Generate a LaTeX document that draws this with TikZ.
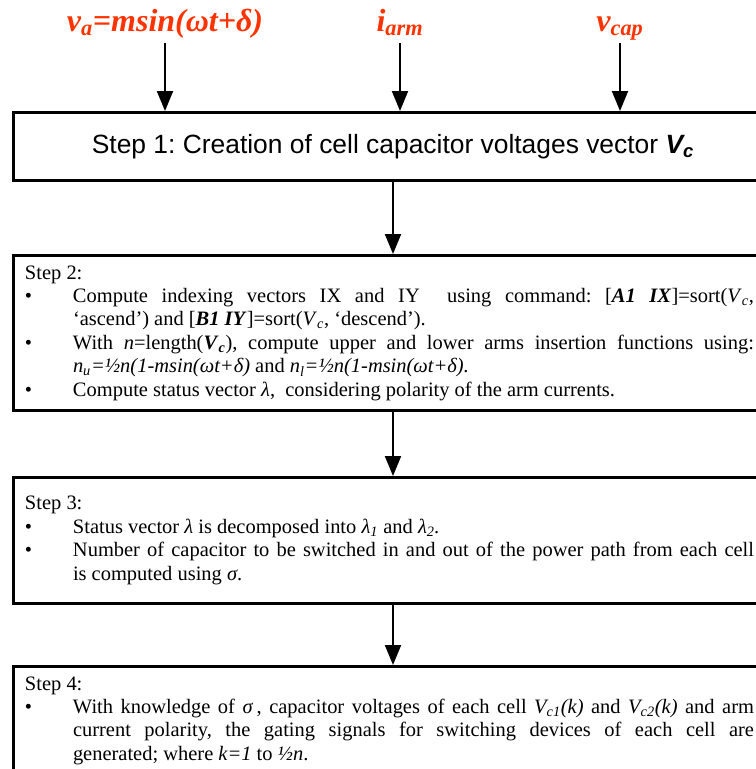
\documentclass[tikz,border=0pt]{standalone}
\usepackage{fontspec}
\setmainfont{Liberation Serif}
\newfontfamily\arialfont{Liberation Sans}
\usetikzlibrary{arrows.meta}
\frenchspacing
\definecolor{sigred}{RGB}{255,51,0}
\newcommand{\stepbody}[1]{\parbox{570pt}{\spaceskip=\fontdimen2\font plus \fontdimen3\font\relax\leftskip=9pt\rightskip=14.25pt\hyphenpenalty=10000\exhyphenpenalty=10000\tolerance=9999\noindent #1\par}}
\newcommand{\stepitem}{\par\hangindent=36pt\hangafter=1\noindent\makebox[36pt][l]{\textbullet}}

\begin{document}
\begin{tikzpicture}[x=0.75pt, y=-0.75pt,
		sig/.style = {text=sigred, font=\fontsize{24pt}{28pt}\selectfont\bfseries\itshape, inner sep=0pt, outer sep=4pt, text height=17pt, text depth=5pt},
		hd/.style = {rectangle, draw=black, line width=2.25pt, anchor=north, minimum width=570pt, minimum height=51pt, font=\arialfont\fontsize{19.8pt}{22pt}\selectfont},
		stp/.style = {rectangle, draw=black, line width=2.25pt, anchor=north, inner xsep=0pt, inner ysep=7.5pt, font=\fontsize{15.35pt}{17.6pt}\selectfont},
		r/.style = {-{Triangle[length=15pt, width=12pt]}, line width=1.5pt}
		]
		\useasboundingbox (0,0) rectangle (756,769);
		\clip (0,0) rectangle (756,769);
		
		%Nodes
		\node[sig]	(va)	at	(165, 23)	{\textit{v}\textsubscript{a}=msin(ωt+δ)};
		\node[sig]	(iarm)	at	(400, 23)	{\textit{i}\textsubscript{arm}};
		\node[sig]	(vcap)	at	(620, 23)	{\textit{v}\textsubscript{cap}};
		\node[hd]	(s1)	at	(393, 111)	{Step 1: Creation of cell capacitor voltages vector \textbf{\textit{V\textsubscript{c}}}};
		\node[stp]	(s2)	at	(393, 254)	{\stepbody{Step 2:
			\stepitem Compute indexing vectors IX and IY\ \ using command: [\textbf{\textit{A1 IX}}]=sort(\textit{V}\textsubscript{\textit{c}},\linebreak ‘ascend’) and [\textbf{\textit{B1 IY}}]=sort(\textit{V}\textsubscript{\textit{c}}, ‘descend’).
			\stepitem With \textit{n}=length(\textbf{\textit{V}\textsubscript{\textit{c}}}), compute upper and lower arms insertion functions using: \textit{n\textsubscript{u}=½n(1-msin(ωt+δ)} and \textit{n\textsubscript{l}=½n(1-msin(ωt+δ).}
			\stepitem Compute status vector \textit{λ},\ \ considering polarity of the arm currents.}};
		\node[stp, minimum height=94.5pt]	(s3)	at	(393, 476)	{\stepbody{Step 3:
			\stepitem Status vector \textit{λ} is decomposed into \textit{λ\textsubscript{1}} and \textit{λ\textsubscript{2}.}
			\stepitem Number of capacitor to be switched in and out of the power path from each cell\linebreak is computed using \textit{σ}.}};
		\node[stp]	(s4)	at	(393, 665)	{\stepbody{Step 4:
			\stepitem With knowledge of \textit{σ}\,, capacitor voltages of each cell \textit{V\textsubscript{c1}(k)} and \textit{V\textsubscript{c2}(k)} and arm\linebreak current polarity, the gating signals for switching devices of each cell are\linebreak generated; where \textit{k=1} to \textit{½n}.}};
		
		%Lines
		\draw[r]	(va.south)	--	(va.south |- s1.north);
		\draw[r]	(iarm.south)	--	(iarm.south |- s1.north);
		\draw[r]	(vcap.south)	--	(vcap.south |- s1.north);
		\draw[r]	(s1.south)	--	(s2.north);
		\draw[r]	(s2.south)	--	(s3.north);
		\draw[r]	(s3.south)	--	(s4.north);
\end{tikzpicture}
\end{document}
